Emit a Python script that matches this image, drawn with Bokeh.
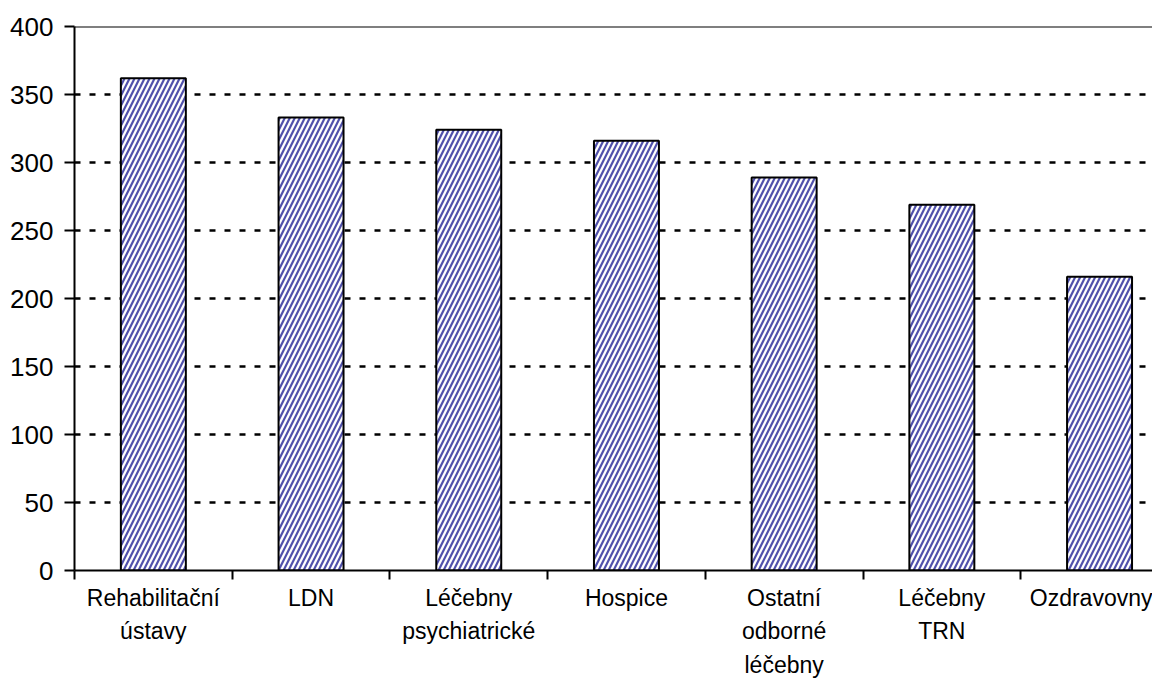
from bokeh.plotting import figure
from bokeh.models import FixedTicker, Span, Range1d, ColumnDataSource
from bokeh.embed import file_html
from bokeh.resources import INLINE

categories = ["Rehabilitační\nústavy", "LDN", "Léčebny\npsychiatrické", "Hospice",
              "Ostatní\nodborné\nléčebny", "Léčebny\nTRN", "Ozdravovny"]
values = [362, 333, 324, 316, 289, 269, 216]
y_ticks = [0, 50, 100, 150, 200, 250, 300, 350, 400]

n = len(categories)
centers = [i + 0.5 for i in range(n)]
boundaries = list(range(n + 1))

W, H = 1152, 681
LEFT, TOP, BOTTOM = 74, 26, 108

p = figure(width=W, height=H, output_backend="svg", toolbar_location=None,
           x_range=Range1d(0, (W - LEFT) / 157.7), y_range=Range1d(0, 400),
           min_border_left=LEFT, min_border_top=TOP, min_border_right=0, min_border_bottom=BOTTOM)
p.outline_line_color = None
p.background_fill_color = "white"
p.border_fill_color = "white"

src = ColumnDataSource(dict(x=centers, top=values))
p.vbar(x="x", top="top", width=0.412, bottom=0, source=src,
       fill_color="white", line_color="black", line_width=2,
       hatch_pattern="right_diagonal_line", hatch_color="#5050ac",
       hatch_scale=10, hatch_weight=2.2)

# grid
p.xgrid.grid_line_color = None
p.ygrid.ticker = FixedTicker(ticks=y_ticks[1:-1])
p.ygrid.grid_line_color = "black"
p.ygrid.grid_line_width = 2.5
p.ygrid.grid_line_dash = "6 9"
p.ygrid.level = "underlay"

top = Span(location=400, dimension="width", line_color="black", line_width=2)
p.add_layout(top)

f = "Liberation Sans"
# y axis
p.yaxis.ticker = FixedTicker(ticks=y_ticks)
p.yaxis.axis_line_color = "black"
p.yaxis.axis_line_width = 2
p.yaxis.major_tick_out = 10
p.yaxis.major_tick_in = 0
p.yaxis.major_tick_line_width = 2
p.yaxis.minor_tick_line_color = None
p.yaxis.major_label_text_font = f
p.yaxis.major_label_text_font_size = "26px"
p.yaxis.major_label_text_color = "black"
p.yaxis.major_label_standoff = 11

# x axis: boundary ticks as minor ticks, labels at category centres
p.xaxis.ticker = FixedTicker(ticks=centers, minor_ticks=boundaries)
p.xaxis.major_label_overrides = {c: lab for c, lab in zip(centers, categories)}
p.xaxis.axis_line_color = "black"
p.xaxis.axis_line_width = 2
p.xaxis.major_tick_out = 0
p.xaxis.major_tick_in = 0
p.xaxis.minor_tick_out = 9
p.xaxis.minor_tick_in = 0
p.xaxis.minor_tick_line_width = 2
p.xaxis.minor_tick_line_color = "black"
p.xaxis.major_label_text_font = f
p.xaxis.major_label_text_font_size = "23px"
p.xaxis.major_label_text_color = "black"
p.xaxis.major_label_text_line_height = 1.3
p.xaxis.major_label_standoff = 5

open("out.html", "w").write(file_html(p, INLINE))
